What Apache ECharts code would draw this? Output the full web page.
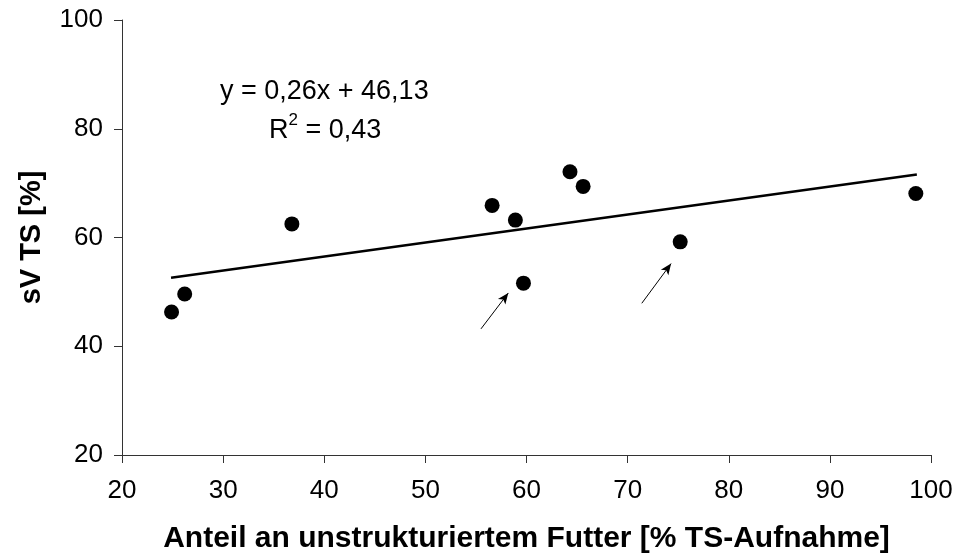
<!DOCTYPE html>
<html>
<head>
<meta charset="utf-8">
<script src="https://cdn.jsdelivr.net/npm/echarts@6/dist/echarts.min.js"></script>
<style>
html,body{margin:0;padding:0;background:#fff;}
#chart{width:958px;height:559px;}
</style>
</head>
<body>
<div id="chart"></div>
<script>
// Data
var xValues = [24.9, 26.2, 36.8, 56.6, 58.9, 64.3, 65.6, 59.7, 75.2, 98.5];
var yValues = [46.3, 49.6, 62.5, 65.9, 63.2, 72.1, 69.4, 51.6, 59.2, 68.1];
var trendX = [24.85, 98.6];
var trendY = [52.6, 71.6];
var arrowStarts = [[55.5, 43.2], [71.4, 47.9]];
var arrowEnds = [[58.2, 49.8], [74.3, 55.2]];
var xTicks = [20, 100, 10];
var yTicks = [20, 100, 20];
var equationText = 'y = 0,26x + 46,13';
var r2Text = '0,43';
var xTitle = 'Anteil an unstrukturiertem Futter [% TS-Aufnahme]';
var yTitle = 'sV TS [%]';

var points = xValues.map(function (x, i) { return [x, yValues[i]]; });
var trend = trendX.map(function (x, i) { return [x, trendY[i]]; });
var arrows = arrowStarts.map(function (s, i) {
  return [{ coord: s, symbol: 'none' }, { coord: arrowEnds[i], symbol: 'arrow', symbolSize: [7, 11] }];
});

var FONT = '"Liberation Sans", Arial, sans-serif';
var chart = echarts.init(document.getElementById('chart'));
chart.setOption({
  backgroundColor: '#fff',
  animation: false,
  grid: { left: 122, top: 20, right: 27, bottom: 100 },
  xAxis: {
    type: 'value', min: xTicks[0], max: xTicks[1], interval: xTicks[2],
    name: xTitle, nameLocation: 'middle', nameGap: 69,
    nameTextStyle: { fontFamily: FONT, fontSize: 30, fontWeight: 'bold', color: '#000' },
    axisLine: { show: true, lineStyle: { color: '#333', width: 1 } },
    axisTick: { show: true, inside: false, length: 8, lineStyle: { color: '#333' } },
    axisLabel: { fontFamily: FONT, fontSize: 26, color: '#000', margin: 23 },
    splitLine: { show: false }
  },
  yAxis: {
    type: 'value', min: yTicks[0], max: yTicks[1], interval: yTicks[2],
    name: yTitle, nameLocation: 'middle', nameGap: 76, nameRotate: 90,
    nameTextStyle: { fontFamily: FONT, fontSize: 29, fontWeight: 'bold', color: '#000' },
    axisLine: { show: true, lineStyle: { color: '#333', width: 1 } },
    axisTick: { show: true, inside: false, length: 8, lineStyle: { color: '#333' } },
    axisLabel: { fontFamily: FONT, fontSize: 26, color: '#000', margin: 19 },
    splitLine: { show: false }
  },
  series: [
    {
      type: 'line', data: trend, symbol: 'none', silent: true,
      lineStyle: { color: '#000', width: 2.5 }, z: 2,
      markLine: {
        silent: true, animation: false,
        lineStyle: { color: '#000', width: 1, type: 'solid' },
        label: { show: false },
        data: arrows
      }
    },
    {
      type: 'scatter', data: points, symbol: 'circle', symbolSize: 15,
      itemStyle: { color: '#000', opacity: 1 }, z: 3
    }
  ],
  graphic: [
    {
      type: 'text', left: 220, top: 78,
      style: { text: equationText, font: '27px ' + FONT, fill: '#000' }
    },
    {
      type: 'text', left: 269, top: 112,
      style: {
        text: '{n|R}{s|2}{n| = ' + r2Text + '}',
        rich: {
          n: { fontFamily: FONT, fontSize: 27, color: '#000', lineHeight: 32, verticalAlign: 'bottom' },
          s: { fontFamily: FONT, fontSize: 17, color: '#000', lineHeight: 17, verticalAlign: 'top' }
        }
      }
    }
  ]
});
</script>
</body>
</html>
